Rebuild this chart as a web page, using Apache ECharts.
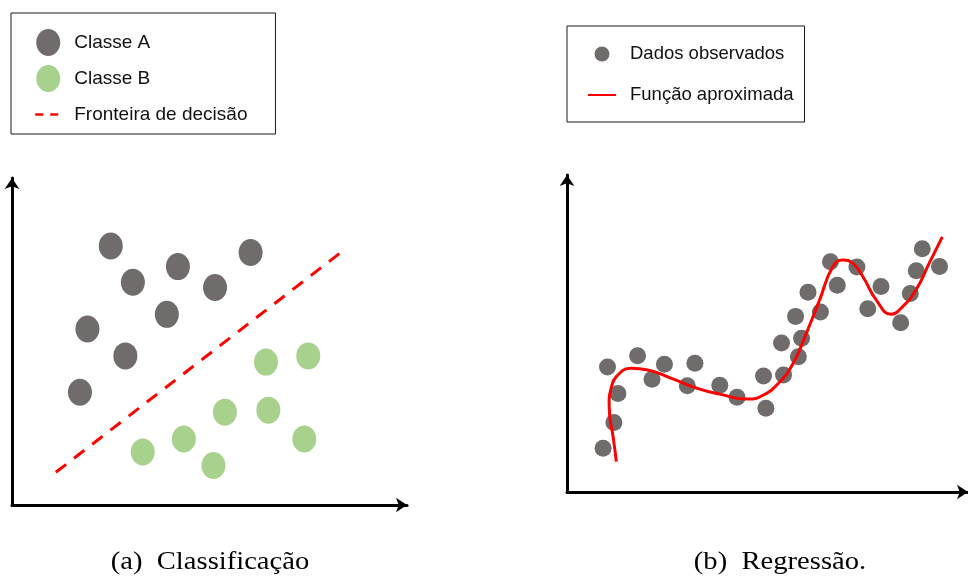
<!DOCTYPE html>
<html>
<head>
<meta charset="utf-8">
<script src="https://cdn.jsdelivr.net/npm/echarts@6/dist/echarts.min.js"></script>
<style>
  html, body { margin: 0; padding: 0; background: #ffffff; }
  #chart { width: 968px; height: 576px; }
</style>
</head>
<body>
<div id="chart"></div>
<script>
// (a) Classification: two classes of points and a linear decision boundary
const classA = [
  [25.0, 79.2], [30.6, 68.1], [42.0, 72.9], [51.4, 66.5], [60.4, 77.2],
  [39.2, 58.3], [19.1, 53.8], [28.7, 45.6], [17.2, 34.5]
];
const classB = [
  [64.3, 43.7], [75.0, 45.6], [53.9, 28.4], [64.9, 29.0],
  [43.5, 20.2], [33.1, 16.2], [51.0, 12.1], [74.0, 20.2]
];
const boundary = [[11.1, 10.0], [83.0, 77.0]];

// (b) Regression: observed samples and the fitted curve
const observed = [
  [9.0, 13.8], [11.7, 21.9], [12.7, 31.1], [10.1, 39.4], [17.6, 43.0],
  [21.2, 35.6], [24.3, 40.3], [30.0, 33.5], [31.9, 40.6], [38.1, 33.7],
  [42.4, 29.9], [49.0, 36.6], [49.6, 26.4], [54.0, 36.9], [53.5, 47.0],
  [57.7, 42.7], [58.5, 48.5], [57.0, 55.4], [60.1, 63.0], [63.2, 56.8],
  [65.7, 72.6], [67.4, 65.2], [72.3, 71.0], [75.0, 57.8], [78.3, 64.8],
  [83.2, 53.4], [85.6, 62.6], [87.1, 69.8], [88.6, 76.7], [92.9, 71.1]
];
const fitted = [
  [12.3, 9.6], [11.5, 17.4], [10.6, 24.8], [10.5, 29.0], [10.9, 32.2],
  [12.3, 36.4], [16.0, 39.0], [20.1, 38.5], [25.9, 35.9], [32.5, 32.7],
  [38.3, 30.8], [44.9, 29.3], [49.0, 30.6], [53.1, 34.8], [56.4, 40.6],
  [59.7, 50.1], [63.0, 60.6], [66.3, 71.1], [68.8, 73.2], [71.3, 72.1],
  [73.8, 67.9], [77.1, 60.6], [80.8, 56.1], [83.7, 58.5], [87.0, 63.7],
  [90.3, 72.1], [93.6, 80.5]
];

const legendLeft = ['Classe A', 'Classe B', 'Fronteira de decisão'];
const legendRight = ['Dados observados', 'Função aproximada'];
const captions = ['(a)  Classificação', '(b)  Regressão.'];

const GRAY = '#706c6c';
const GREEN = '#a9d18e';
const RED = '#ff0000';
const ELLIPSE = 'path://M0,13.5A12,13.5 0 1,1 24,13.5A12,13.5 0 1,1 0,13.5z';
// legend entries for plain lines: hide the marker that line legends draw by default
const NO_MARKER = { opacity: 0, color: 'rgba(0,0,0,0)', borderWidth: 0 };

function arrowAxis(idx) {
  return {
    type: 'value', gridIndex: idx, min: 0, max: 100,
    axisLine: {
      show: true, onZero: false,
      symbol: ['none', 'arrow'], symbolSize: [11, 11],
      lineStyle: { color: '#000000', width: 3 }
    },
    axisTick: { show: false }, axisLabel: { show: false }, splitLine: { show: false }
  };
}

const chart = echarts.init(document.getElementById('chart'), null, { renderer: 'canvas' });

chart.setOption({
  animation: false,
  backgroundColor: '#ffffff',
  grid: [
    { left: 12, top: 178, width: 395, height: 327 },
    { left: 567, top: 175, width: 404, height: 317 }
  ],
  xAxis: [arrowAxis(0), arrowAxis(1)],
  yAxis: [arrowAxis(0), arrowAxis(1)],
  legend: [
    {
      left: 11, top: 13, orient: 'vertical',
      padding: [16, 28, 6, 23],
      borderColor: '#1a1a1a', borderWidth: 1,
      itemWidth: 26, itemHeight: 27, itemGap: 9,
      selectedMode: false,
      textStyle: {
        fontFamily: 'Liberation Sans, Arial, sans-serif', fontSize: 19,
        color: '#111111', lineHeight: 27, padding: [0, 0, 0, 8]
      },
      data: [
        { name: legendLeft[0], icon: ELLIPSE },
        { name: legendLeft[1], icon: ELLIPSE },
        { name: legendLeft[2], itemStyle: NO_MARKER, lineStyle: { type: [8, 7], width: 2.5, color: RED } }
      ]
    },
    {
      left: 567, top: 26, orient: 'vertical',
      padding: [18.5, 11, 17.5, 20],
      borderColor: '#1a1a1a', borderWidth: 1,
      itemWidth: 28, itemHeight: 15, itemGap: 22,
      selectedMode: false,
      textStyle: {
        fontFamily: 'Liberation Sans, Arial, sans-serif', fontSize: 18.5,
        color: '#111111', lineHeight: 15, padding: [0, 0, 0, 9]
      },
      data: [
        { name: legendRight[0], icon: 'circle' },
        { name: legendRight[1], itemStyle: NO_MARKER, lineStyle: { width: 2, color: RED } }
      ]
    }
  ],
  graphic: [
    {
      type: 'text', x: 210, y: 562, scaleX: 1.1,
      style: {
        text: captions[0], fill: '#000000', align: 'center', verticalAlign: 'middle',
        font: '26px "Liberation Serif", "Times New Roman", serif'
      }
    },
    {
      type: 'text', x: 780, y: 562, scaleX: 1.1,
      style: {
        text: captions[1], fill: '#000000', align: 'center', verticalAlign: 'middle',
        font: '26px "Liberation Serif", "Times New Roman", serif'
      }
    }
  ],
  series: [
    {
      name: legendLeft[2], type: 'line', xAxisIndex: 0, yAxisIndex: 0,
      data: boundary, symbol: 'none', z: 1,
      itemStyle: { color: RED },
      lineStyle: { color: RED, width: 3, type: [13, 10] }
    },
    {
      name: legendLeft[0], type: 'scatter', xAxisIndex: 0, yAxisIndex: 0,
      data: classA, symbol: ELLIPSE, symbolSize: [24, 27],
      itemStyle: { color: GRAY, opacity: 1 }, z: 3
    },
    {
      name: legendLeft[1], type: 'scatter', xAxisIndex: 0, yAxisIndex: 0,
      data: classB, symbol: ELLIPSE, symbolSize: [24, 27],
      itemStyle: { color: GREEN, opacity: 1 }, z: 3
    },
    {
      name: legendRight[0], type: 'scatter', xAxisIndex: 1, yAxisIndex: 1,
      data: observed, symbol: 'circle', symbolSize: 17,
      itemStyle: { color: GRAY, opacity: 1 }, z: 2
    },
    {
      name: legendRight[1], type: 'line', xAxisIndex: 1, yAxisIndex: 1,
      data: fitted, symbol: 'none', smooth: 0.5, z: 3,
      itemStyle: { color: RED },
      lineStyle: { color: RED, width: 3 }
    }
  ]
});
</script>
</body>
</html>
